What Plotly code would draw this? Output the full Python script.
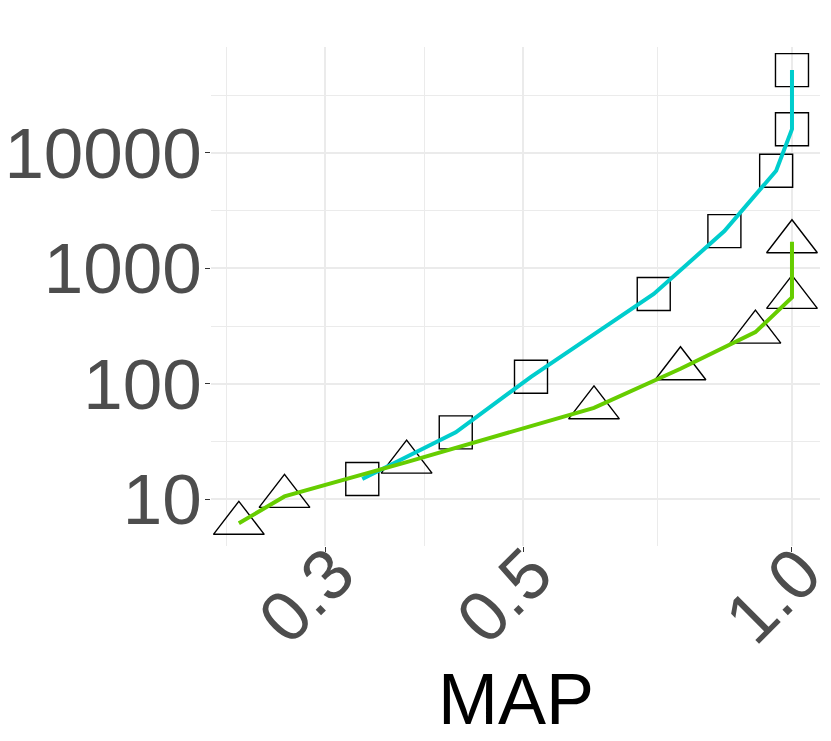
import plotly.graph_objects as go
import numpy as np

# values (log-log)
map_cyan = [0.33, 0.42, 0.51, 0.70, 0.84, 0.96, 1.0, 1.0]
val_cyan = [15, 38, 115, 600, 2100, 7000, 16000, 52000]

map_green = [0.24, 0.27, 0.37, 0.60, 0.75, 0.91, 1.0, 1.0]
val_green = [6.2, 10.6, 21, 62, 135, 280, 560, 1700]

x_ticks = [0.3, 0.5, 1.0]
x_ticklabels = ["0.3", "0.5", "1.0"]
y_ticks = [10, 100, 1000, 10000]
y_ticklabels = ["10", "100", "1000", "10000"]

CYAN = "#00CDCD"
GREEN = "#66CD00"
GRID = "#EBEBEB"
FONT = "Liberation Sans, Arial, sans-serif"
TICK_FONT = dict(family=FONT, size=71, color="#4D4D4D")

# ggplot-style minor breaks: midpoints between majors in log space
lx = np.log10(x_ticks)
lx = np.concatenate([[lx[0] - (lx[1] - lx[0])], lx])
x_minor = list(10 ** ((lx[:-1] + lx[1:]) / 2))
ly = np.log10(y_ticks)
ly = np.concatenate([ly, [ly[-1] + 1]])
y_minor = list(10 ** ((ly[:-1] + ly[1:]) / 2))

fig = go.Figure()

# open markers
fig.add_trace(go.Scatter(
    x=map_cyan, y=val_cyan, mode="markers",
    marker=dict(symbol="square-open", size=33, color="black", line=dict(width=1.4)),
    hoverinfo="skip"
))
fig.add_trace(go.Scatter(
    x=map_green, y=val_green, mode="markers",
    marker=dict(symbol="triangle-up-open", size=44, color="black", line=dict(width=1.4)),
    hoverinfo="skip"
))

# lines on top
fig.add_trace(go.Scatter(
    x=map_cyan, y=val_cyan, mode="lines",
    line=dict(color=CYAN, width=4)
))
fig.add_trace(go.Scatter(
    x=map_green, y=val_green, mode="lines",
    line=dict(color=GREEN, width=4)
))

fig.update_layout(
    width=831, height=741,
    margin=dict(l=211, r=11, t=47, b=195, autoexpand=False),
    paper_bgcolor="white",
    plot_bgcolor="white",
    showlegend=False,
    xaxis=dict(
        type="log", range=[-0.651, 0.0314], automargin=False,
        tickvals=x_ticks, ticktext=x_ticklabels, tickangle=-45,
        tickfont=TICK_FONT, ticklabelstandoff=-49, ticklabelshift=8,
        ticklabeloverflow="allow",
        ticks="outside", ticklen=5, tickwidth=1.2, tickcolor="#333333",
        showgrid=True, gridcolor=GRID, gridwidth=1.6,
        minor=dict(tickvals=x_minor, showgrid=True, gridcolor=GRID, gridwidth=0.8, ticks=""),
        zeroline=False, showline=False,
    ),
    yaxis=dict(
        type="log", range=[0.596, 4.916], automargin=False,
        tickvals=y_ticks, ticktext=y_ticklabels,
        tickfont=TICK_FONT, ticklabelstandoff=-11, ticklabeloverflow="allow",
        ticks="outside", ticklen=5, tickwidth=1.2, tickcolor="#333333",
        showgrid=True, gridcolor=GRID, gridwidth=1.6,
        minor=dict(tickvals=y_minor, showgrid=True, gridcolor=GRID, gridwidth=0.8, ticks=""),
        zeroline=False, showline=False,
    ),
    annotations=[dict(
        text="MAP", x=0.5, y=-0.3066, xref="paper", yref="paper",
        xanchor="center", yanchor="middle", showarrow=False,
        font=dict(family=FONT, size=72, color="black"),
    )],
)

# page body has a default 8px margin; drop it so the figure sits at the window origin
fig.write_html("out.html", config={"displayModeBar": False},
               post_script="document.body.style.margin='0';")
